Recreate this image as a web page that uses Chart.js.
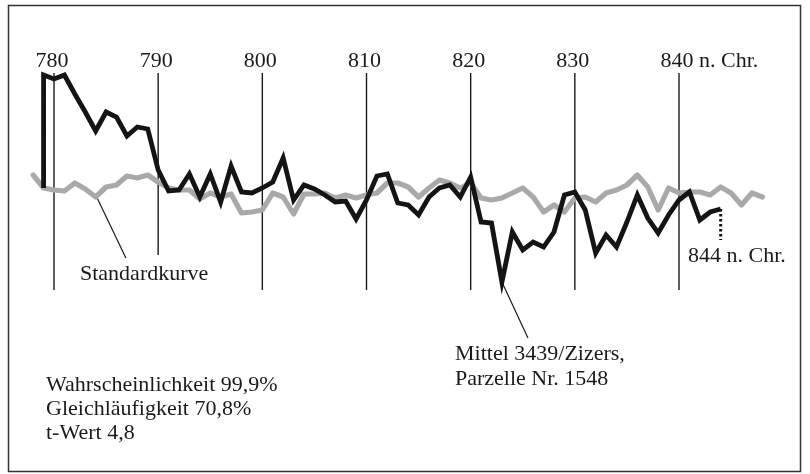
<!DOCTYPE html>
<html><head><meta charset="utf-8">
<script src="https://cdn.jsdelivr.net/npm/chart.js@4.4.1/dist/chart.umd.min.js"></script>
<style>html,body{margin:0;padding:0;background:#fff}canvas{display:block}</style>
</head><body>
<canvas id="c" width="810" height="474"></canvas>
<script>
// ---- data (index values) ----
const decadeYears = [780, 790, 800, 810, 820, 830, 840];
const decadeLabels = ["780", "790", "800", "810", "820", "830", "840 n. Chr."];

const meanYears = [779, 779, 780, 781, 782, 783, 784, 785, 786, 787, 788, 789,
  790, 791, 792, 793, 794, 795, 796, 797, 798, 799,
  800, 801, 802, 803, 804, 805, 806, 807, 808, 809,
  810, 811, 812, 813, 814, 815, 816, 817, 818, 819,
  820, 821, 822, 823, 824, 825, 826, 827, 828, 829,
  830, 831, 832, 833, 834, 835, 836, 837, 838, 839,
  840, 841, 842, 843, 844];
const meanValues = [112, 225, 221, 225, 206, 188, 169, 188, 183, 164, 173, 171,
  130, 109, 110, 126, 103, 126, 98, 134, 108, 107,
  112, 118, 142, 100, 115, 111, 105, 98, 99, 81,
  100, 124, 126, 97, 95, 85, 103, 112, 115, 103,
  123, 78, 77, 18, 68, 50, 58, 53, 68, 105,
  108, 90, 47, 65, 53, 78, 105, 82, 67, 85,
  100, 108, 80, 88, 91];

const stdYears = [778, 779, 780, 781, 782, 783, 784, 785, 786, 787, 788, 789,
  790, 791, 792, 793, 794, 795, 796, 797, 798, 799,
  800, 801, 802, 803, 804, 805, 806, 807, 808, 809,
  810, 811, 812, 813, 814, 815, 816, 817, 818, 819,
  820, 821, 822, 823, 824, 825, 826, 827, 828, 829,
  830, 831, 832, 833, 834, 835, 836, 837, 838, 839,
  840, 841, 842, 843, 844, 845, 846, 847, 848];
const stdValues = [125, 112, 110, 109, 117, 111, 103, 113, 115, 124, 122, 125,
  118, 112, 110, 110, 101, 107, 103, 106, 87, 88,
  90, 107, 103, 86, 106, 106, 107, 102, 105, 102,
  105, 107, 117, 117, 113, 103, 112, 120, 117, 112,
  117, 102, 100, 102, 107, 112, 103, 88, 95, 88,
  102, 103, 98, 107, 110, 115, 125, 113, 90, 112,
  107, 108, 108, 105, 113, 107, 95, 107, 103];

const endYear = 844;
const endDotted = [91, 60];

const stats = ["Wahrscheinlichkeit 99,9%", "Gleichläufigkeit 70,8%", "t-Wert 4,8"];
const stdLabel = "Standardkurve";
const meanLabel = ["Mittel 3439/Zizers,", "Parzelle Nr. 1548"];
const endLabel = "844 n. Chr.";

// ---- build datasets ----
const pts = (xs, ys) => xs.map((x, i) => ({x: x, y: ys[i]}));
const FONT = '22px "Liberation Serif", "DejaVu Serif", serif';

const datasets = [];
datasets.push({label: 'Mittel', data: pts(meanYears, meanValues), borderColor: '#141414',
  borderWidth: 4.8, order: 0, borderJoinStyle: 'miter', borderCapStyle: 'butt'});
datasets.push({label: 'Standardkurve', data: pts(stdYears, stdValues), borderColor: '#a9a9a9',
  borderWidth: 5.2, order: 5, borderJoinStyle: 'round', borderCapStyle: 'round'});
datasets.push({label: 'end', data: pts([endYear, endYear], endDotted), borderColor: '#141414',
  borderWidth: 3, borderDash: [2.5, 2.5], order: 1});
decadeYears.forEach((yr, i) => {
  datasets.push({label: 'd' + yr, data: pts([yr, yr], [227, yr === 790 ? 45 : 10]),
    borderColor: '#1a1a1a', borderWidth: 1.4, order: 10});
});
// pointer lines
datasets.push({label: 'p1', data: pts([784.1, 786.9], [103, 42]), borderColor: '#1a1a1a', borderWidth: 1.2, order: 9});
datasets.push({label: 'p2', data: pts([823.0, 825.5], [18, -38]), borderColor: '#1a1a1a', borderWidth: 1.2, order: 9});

const textPlugin = {
  id: 'texts',
  afterDraw(chart) {
    const ctx = chart.ctx, xs = chart.scales.x;
    ctx.save();
    ctx.strokeStyle = '#333';
    ctx.lineWidth = 1.5;
    ctx.strokeRect(8.5, 5.5, 792, 466);
    ctx.fillStyle = '#1a1a1a';
    ctx.font = FONT;
    ctx.textBaseline = 'alphabetic';
    decadeYears.forEach((yr, i) => {
      const px = xs.getPixelForValue(yr) - 2;
      const num = String(yr);
      const w = ctx.measureText(num).width;
      ctx.textAlign = 'left';
      ctx.fillText(decadeLabels[i], px - w / 2, 67);
    });
    ctx.textAlign = 'left';
    ctx.fillText(stdLabel, 80, 280);
    ctx.fillText(meanLabel[0], 455, 360);
    ctx.fillText(meanLabel[1], 455, 385);
    ctx.fillText(endLabel, 688, 262);
    stats.forEach((s, i) => ctx.fillText(s, 46, 391 + i * 24));
    ctx.restore();
  }
};

new Chart(document.getElementById('c'), {
  type: 'line',
  data: {datasets: datasets},
  options: {
    responsive: false,
    animation: false,
    devicePixelRatio: 1,
    layout: {padding: 0},
    elements: {point: {radius: 0}, line: {tension: 0}},
    plugins: {legend: {display: false}, tooltip: {enabled: false}},
    scales: {
      x: {type: 'linear', display: false, min: 774.816, max: 852.576},
      y: {type: 'linear', display: false, min: -174, max: 300}
    }
  },
  plugins: [textPlugin]
});
</script>
</body></html>
